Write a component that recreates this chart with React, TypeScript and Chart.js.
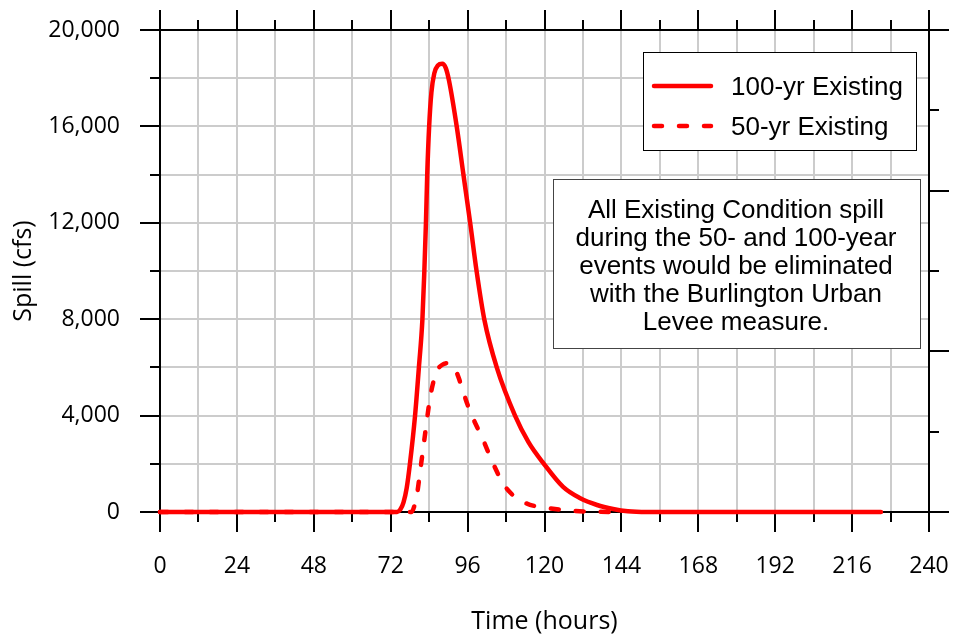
import React, { useEffect, useRef } from "react";
import { Chart, registerables } from "chart.js";

Chart.register(...registerables);

// ---- Data ----
const hours100 = [0, 74, 75, 76, 77, 78, 79.6, 80.8, 81.9, 82.5, 83.0, 83.4, 84.0, 84.7, 85.6, 86.7, 88.1, 89.2, 90.2, 92.6, 94.7, 96.8, 98.8, 101.2, 105.1, 110.8, 115, 119.8, 125.8, 131, 136.4, 141.4, 146, 152, 225];
const spill100 = [0, 0, 100, 400, 1000, 2000, 4000, 6000, 8000, 10000, 12000, 14000, 16000, 17400, 18200, 18530, 18600, 18420, 17900, 16000, 14000, 12000, 10000, 8000, 6000, 4000, 2900, 2000, 1040, 580, 290, 125, 30, 0, 0];

const hours50 = [0, 78.5, 79.6, 80.3, 81.1, 82.1, 83.2, 84.0, 84.8, 86.4, 88, 90, 91.5, 93, 94.6, 96, 97.5, 100.8, 104, 107, 109, 111.4, 115.5, 120.8, 125.8, 131, 136, 141];
const spill50 = [0, 0, 350, 800, 1600, 2600, 3700, 4500, 5100, 5850, 6100, 6180, 6050, 5650, 5000, 4450, 3950, 3000, 2000, 1200, 850, 560, 300, 170, 80, 30, 10, 0];

const seriesLabels = ["100-yr Existing", "50-yr Existing"];
const noteLines = [
  "All Existing Condition spill",
  "during the 50- and 100-year",
  "events would be eliminated",
  "with the Burlington Urban",
  "Levee measure.",
];

const xMin = 0, xMax = 240, xMinorStep = 12, xMajorStep = 24;
const yMin = 0, yMax = 20000, yMinorStep = 2000, yMajorStep = 4000;
const y2Min = 0, y2Max = 6, y2MinorStep = 1, y2MajorStep = 2;

const TICK_FONT = { family: "'Open Sans', sans-serif", size: 23 };
const TITLE_FONT = { family: "'Open Sans', sans-serif", size: 25 };
const BOX_FONT = "26px 'Liberation Sans', Arial, sans-serif";

const toXY = (xs: number[], ys: number[]) => xs.map((x, i) => ({ x, y: ys[i] }));

const zeroPad = (s: any) => {
  s.paddingTop = 0;
  s.paddingBottom = 0;
  s.paddingLeft = 0;
  s.paddingRight = 0;
};

const framePlugin = {
  id: "frame",
  beforeDatasetsDraw(chart: any) {
    const { ctx, chartArea, scales } = chart;
    const { left, right, top, bottom } = chartArea;
    ctx.save();
    ctx.strokeStyle = "#000";
    ctx.lineWidth = 2;
    ctx.lineCap = "butt";
    const line = (x1: number, y1: number, x2: number, y2: number) => {
      ctx.beginPath();
      ctx.moveTo(x1, y1);
      ctx.lineTo(x2, y2);
      ctx.stroke();
    };
    for (const t of scales.x.ticks) {
      const px = Math.round(scales.x.getPixelForValue(t.value));
      const len = t.value % xMajorStep === 0 ? 20 : 10;
      line(px, bottom, px, bottom + len);
      line(px, top, px, top - len);
    }
    for (const t of scales.y.ticks) {
      const py = Math.round(scales.y.getPixelForValue(t.value));
      const len = t.value % yMajorStep === 0 ? 20 : 10;
      line(left - len, py, left, py);
    }
    for (const t of scales.y2.ticks) {
      const py = Math.round(scales.y2.getPixelForValue(t.value));
      const len = t.value % y2MajorStep === 0 ? 20 : 10;
      line(right, py, right + len, py);
    }
    line(left - 1, top, right + 1, top);
    line(left - 1, bottom, right + 1, bottom);
    line(left, top, left, bottom);
    line(right, top, right, bottom);
    ctx.restore();
  },
};

const overlayPlugin = {
  id: "overlay",
  afterDraw(chart: any) {
    const { ctx } = chart;
    ctx.save();
    ctx.fillStyle = "#fff";
    ctx.fillRect(643, 52, 273, 98);
    ctx.strokeStyle = "#000";
    ctx.lineWidth = 1;
    ctx.strokeRect(643.5, 52.5, 273, 98);
    ctx.font = BOX_FONT;
    ctx.textAlign = "left";
    ctx.textBaseline = "alphabetic";
    chart.data.datasets.forEach((ds: any, i: number) => {
      const yy = 86 + i * 40;
      ctx.save();
      ctx.strokeStyle = ds.borderColor;
      ctx.lineWidth = ds.borderWidth;
      ctx.lineCap = "round";
      ctx.setLineDash(ds.borderDash || []);
      ctx.beginPath();
      ctx.moveTo(654, yy);
      ctx.lineTo(711, yy);
      ctx.stroke();
      ctx.restore();
      ctx.fillStyle = "#000";
      ctx.fillText(ds.label, 731, 95 + i * 40);
    });
    ctx.fillStyle = "#fff";
    ctx.fillRect(553, 179, 367, 169);
    ctx.strokeStyle = "#444";
    ctx.lineWidth = 1;
    ctx.strokeRect(553.5, 179.5, 367, 169);
    ctx.fillStyle = "#000";
    ctx.textAlign = "center";
    noteLines.forEach((s, i) => {
      ctx.fillText(s, 736, 218 + i * 28);
    });
    ctx.restore();
  },
};

export default function App() {
  const ref = useRef<HTMLCanvasElement | null>(null);
  useEffect(() => {
    document.body.style.margin = "0";
    const canvas = ref.current;
    if (!canvas) return;
    const chart = new Chart(canvas, {
      type: "line",
      data: {
        datasets: [
          {
            label: seriesLabels[0],
            data: toXY(hours100, spill100),
            borderColor: "#ff0000",
            borderWidth: 4.5,
            pointRadius: 0,
            fill: false,
            cubicInterpolationMode: "monotone",
            borderCapStyle: "round",
            borderJoinStyle: "round",
            clip: false,
          },
          {
            label: seriesLabels[1],
            data: toXY(hours50, spill50),
            borderColor: "#ff0000",
            borderWidth: 4.5,
            borderDash: [8, 17],
            pointRadius: 0,
            fill: false,
            cubicInterpolationMode: "monotone",
            borderCapStyle: "round",
            borderJoinStyle: "round",
            clip: false,
          },
        ],
      },
      options: {
        responsive: false,
        animation: false,
        devicePixelRatio: 1,
        layout: { padding: { top: 30, left: 0, right: 0, bottom: 0 } },
        plugins: { legend: { display: false }, tooltip: { enabled: false } },
        scales: {
          x: {
            type: "linear",
            position: "bottom",
            min: xMin,
            max: xMax,
            ticks: {
              stepSize: xMinorStep,
              autoSkip: false,
              maxRotation: 0,
              padding: 41,
              color: "#000",
              font: TICK_FONT,
              callback: (v: any) => (Number(v) % xMajorStep === 0 ? String(v) : ""),
            },
            grid: { color: "#cccccc", lineWidth: 2, drawTicks: false },
            border: { display: false },
            title: {
              display: true,
              text: "Time (hours)",
              color: "#000",
              font: TITLE_FONT,
              padding: { top: 0, bottom: 3 },
            },
            afterFit: (s: any) => {
              s.height = 128;
              zeroPad(s);
            },
          },
          y: {
            type: "linear",
            position: "left",
            min: yMin,
            max: yMax,
            ticks: {
              stepSize: yMinorStep,
              autoSkip: false,
              padding: 40,
              color: "#000",
              font: TICK_FONT,
              callback: (v: any) =>
                Number(v) % yMajorStep === 0 ? Number(v).toLocaleString("en-US") : "",
            },
            grid: { color: "#cccccc", lineWidth: 2, drawTicks: false },
            border: { display: false },
            title: {
              display: true,
              text: "Spill (cfs)",
              color: "#000",
              font: TITLE_FONT,
              padding: { top: 9, bottom: 0 },
            },
            afterFit: (s: any) => {
              s.width = 160;
              zeroPad(s);
            },
          },
          y2: {
            type: "linear",
            position: "right",
            min: y2Min,
            max: y2Max,
            ticks: { stepSize: y2MinorStep, display: false },
            grid: { display: false, drawTicks: false },
            border: { display: false },
            afterFit: (s: any) => {
              s.width = 26;
              zeroPad(s);
            },
          },
        },
      },
      plugins: [framePlugin, overlayPlugin],
    } as any);
    return () => chart.destroy();
  }, []);
  return (
    <div style={{ position: "absolute", left: 0, top: 0, width: 955, height: 640, background: "#fff" }}>
      <canvas ref={ref} width={955} height={640} style={{ display: "block" }} />
    </div>
  );
}
